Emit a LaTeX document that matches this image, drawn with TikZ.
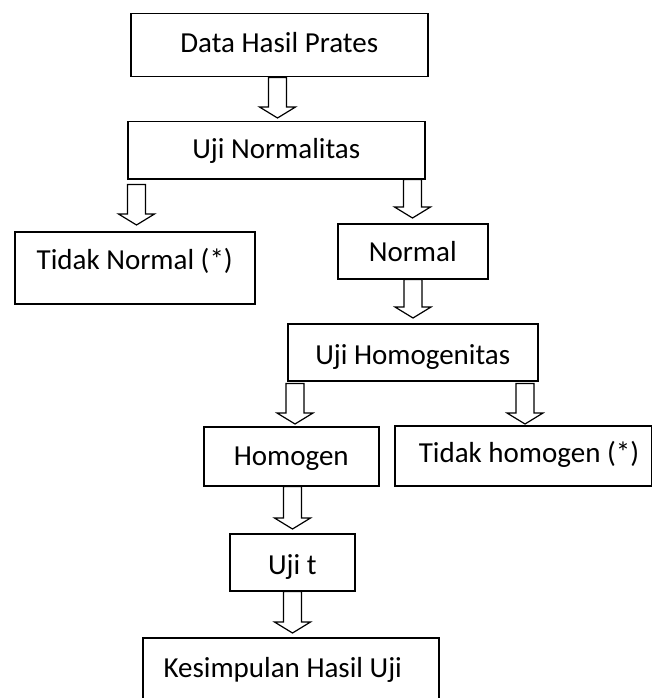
\documentclass[tikz,border=0pt]{standalone}
\usepackage{fontspec}
\setmainfont{Carlito}
\usetikzlibrary{calc}
\tikzset{
  box/.style={draw=black, line width=1.5pt, fill=white, inner xsep=0pt, inner ysep=0pt, anchor=north west, font=\fontsize{29}{34}\selectfont},
  barrowstyle/.style={draw=black, line width=1.2pt, fill=white, line join=miter}
}
% #1 x centre, #2 upper node, #3 gap below it, #4 lower node, #5 gap above it
\newcommand\blockarrow[5]{%
  \draw[barrowstyle] let \p1=(#2.south), \p2=(#4.north) in
    (#1pt-9pt,\y1-#3pt) -- (#1pt+9pt,\y1-#3pt) -- (#1pt+9pt,\y2+#5pt+11pt) --
    (#1pt+18pt,\y2+#5pt+11pt) -- (#1pt,\y2+#5pt) -- (#1pt-18pt,\y2+#5pt+11pt) --
    (#1pt-9pt,\y2+#5pt+11pt) -- cycle;}
\begin{document}
\begin{tikzpicture}[x=1pt,y=-1pt]
\useasboundingbox (0,0) rectangle (651,698);
\node[box, minimum width=297pt, text height=38.5pt, text depth=24.5pt] (d) at (130,13) {Data Hasil Prates};
\node[box, minimum width=297pt, text height=37pt, text depth=20pt] (un) at (127,121) {Uji Normalitas};
\node[box, minimum width=240pt, text height=38pt, text depth=34pt] (tn) at (14,231) {Tidak Normal (*)};
\node[box, minimum width=150pt, text height=38pt, text depth=17pt] (n) at (337,223) {Normal};
\node[box, minimum width=250pt, text height=41pt, text depth=16pt] (uh) at (287,323) {Uji Homogenitas};
\node[box, minimum width=175pt, text height=38.5pt, text depth=20.5pt] (h) at (203,426) {Homogen};
\node[box, minimum width=256.5pt, text height=37pt, text depth=23pt] (th) at (394,425) {\hspace*{12pt}Tidak homogen (*)};
\node[box, minimum width=125pt, text height=41pt, text depth=16pt] (ut) at (229,533) {Uji t};
\node[box, minimum width=296pt, text height=39.5pt, text depth=30.5pt] (k) at (142,637) {Kesimpulan Hasil Uji\hspace*{16pt}};
\blockarrow{277.5}{d}{0}{un}{3}
\blockarrow{136.5}{un}{5}{tn}{6}
\blockarrow{412.5}{un}{0}{n}{5}
\blockarrow{413}{n}{0}{uh}{5}
\blockarrow{295}{uh}{2}{h}{2}
\blockarrow{525}{uh}{2}{th}{1}
\blockarrow{292.5}{h}{0}{ut}{4}
\blockarrow{292.5}{ut}{0}{k}{4}
\end{tikzpicture}
\end{document}
